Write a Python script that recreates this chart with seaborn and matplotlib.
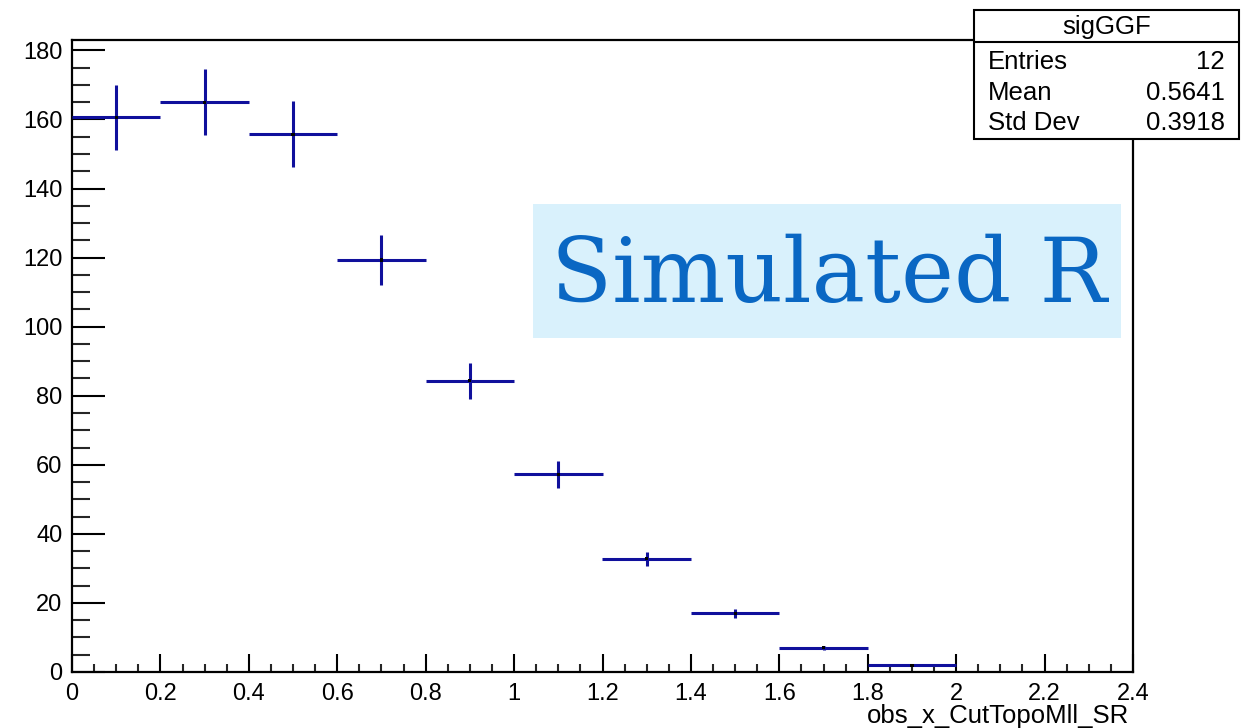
import numpy as np
import pandas as pd
import matplotlib
matplotlib.use("Agg")
import matplotlib.pyplot as plt
from matplotlib.patches import Rectangle
from matplotlib.ticker import MultipleLocator
import seaborn as sns

# Histogram of the ggF signal sample: 10 bins of width 0.2
bin_edges = [0.0, 0.2, 0.4, 0.6, 0.8, 1.0, 1.2, 1.4, 1.6, 1.8, 2.0]
bin_contents = [160.6, 165.0, 155.7, 119.3, 84.3, 57.2, 32.8, 17.0, 7.0, 2.0]
bin_errors = [9.5, 9.6, 9.5, 7.1, 5.3, 3.9, 2.0, 1.35, 0.6, 0.3]

hist_name = "sigGGF"
stat_labels = ["Entries", "Mean", "Std Dev"]
stat_values = ["12", "0.5641", "0.3918"]
x_title = "obs_x_CutTopoMll_SR"
banner_text = "Simulated R"

edges = np.array(bin_edges)
df = pd.DataFrame({
    "center": 0.5 * (edges[:-1] + edges[1:]),
    "half_width": 0.5 * np.diff(edges),
    "content": bin_contents,
    "error": bin_errors,
})

sns.set_theme(style="ticks")
plt.rcParams["font.family"] = ["Liberation Sans", "DejaVu Sans"]
plt.rcParams["text.color"] = "black"

W, H = 1252, 728
fig = plt.figure(figsize=(W / 100, H / 100), dpi=100)
fig.patch.set_facecolor("white")


def fx(px):
    return px / W


def fy(py):
    return 1 - py / H


ax_l, ax_r, ax_t, ax_b = 72, 1133, 40, 672
ax = fig.add_axes([fx(ax_l), fy(ax_b), fx(ax_r) - fx(ax_l), fy(ax_t) - fy(ax_b)])
ax.set_facecolor("white")

line_color = "#10109c"
ax.errorbar(df["center"], df["content"], xerr=df["half_width"], yerr=df["error"],
            fmt="none", ecolor=line_color, elinewidth=2.2, capsize=0, zorder=3)
sns.scatterplot(data=df, x="center", y="content", ax=ax, color="black",
                s=5, marker="s", edgecolor="none", zorder=4, legend=False)

ax.set_xlim(0, 2.4)
ax.set_ylim(0, 183)
ax.xaxis.set_minor_locator(MultipleLocator(0.05))
ax.yaxis.set_major_locator(MultipleLocator(20))
ax.yaxis.set_minor_locator(MultipleLocator(5))
xt = np.round(np.arange(0, 2.41, 0.2), 1)
ax.set_xticks(xt)
ax.set_xticklabels([f"{v:g}" for v in xt])

ax.tick_params(axis="y", which="major", direction="in", length=24, width=1.5,
               labelsize=17, pad=7, colors="black")
ax.tick_params(axis="y", which="minor", direction="in", length=13, width=1.5)
ax.tick_params(axis="x", which="major", direction="in", length=13, width=1.5,
               labelsize=17, pad=8, colors="black")
ax.tick_params(axis="x", which="minor", direction="in", length=6, width=1.5)
for sp in ax.spines.values():
    sp.set_visible(True)
    sp.set_linewidth(1.6)
    sp.set_color("black")

# Axis title sits right-aligned under the last tick labels
ax.set_xlabel(x_title, fontsize=18.5, color="black")
ax.xaxis.set_label_coords((1129 - ax_l) / (ax_r - ax_l),
                          (ax_b - 723) / (ax_b - ax_t))
ax.xaxis.label.set_horizontalalignment("right")
ax.xaxis.label.set_verticalalignment("baseline")
ax.set_ylabel("")

# Statistics box
box_l, box_r, box_t, box_m, box_b = 974, 1239, 10, 42, 139
fig.patches.append(Rectangle((fx(box_l), fy(box_b)), fx(box_r) - fx(box_l),
                             fy(box_t) - fy(box_b), transform=fig.transFigure,
                             facecolor="white", edgecolor="black", linewidth=1.5,
                             zorder=10))
fig.lines.append(plt.Line2D([fx(box_l), fx(box_r)], [fy(box_m), fy(box_m)],
                            transform=fig.transFigure, color="black",
                            linewidth=1.5, zorder=11))
fig.text(fx((box_l + box_r) / 2), fy(27), hist_name, ha="center", va="center",
         fontsize=18.5, color="black", zorder=12)
for i, (lab, val) in enumerate(zip(stat_labels, stat_values)):
    yy = fy(62 + 30.5 * i)
    fig.text(fx(988), yy, lab, ha="left", va="center", fontsize=18.5,
             color="black", zorder=12)
    fig.text(fx(1225), yy, val, ha="right", va="center", fontsize=18.5,
             color="black", zorder=12)

# Banner
fig.patches.append(Rectangle((fx(533), fy(338)), fx(1121) - fx(533),
                             fy(204) - fy(338), transform=fig.transFigure,
                             facecolor="#d9f1fc", edgecolor="none", zorder=8))
banner = fig.text(fx(829), fy(302), banner_text, ha="center", va="baseline",
                  fontsize=60, color="#0a67c3", family="DejaVu Serif",
                  zorder=9)
renderer = fig.canvas.get_renderer()
w = banner.get_window_extent(renderer).width
banner.set_fontsize(60 * 556 / w)

fig.savefig("out.png", dpi=100, facecolor="white")
